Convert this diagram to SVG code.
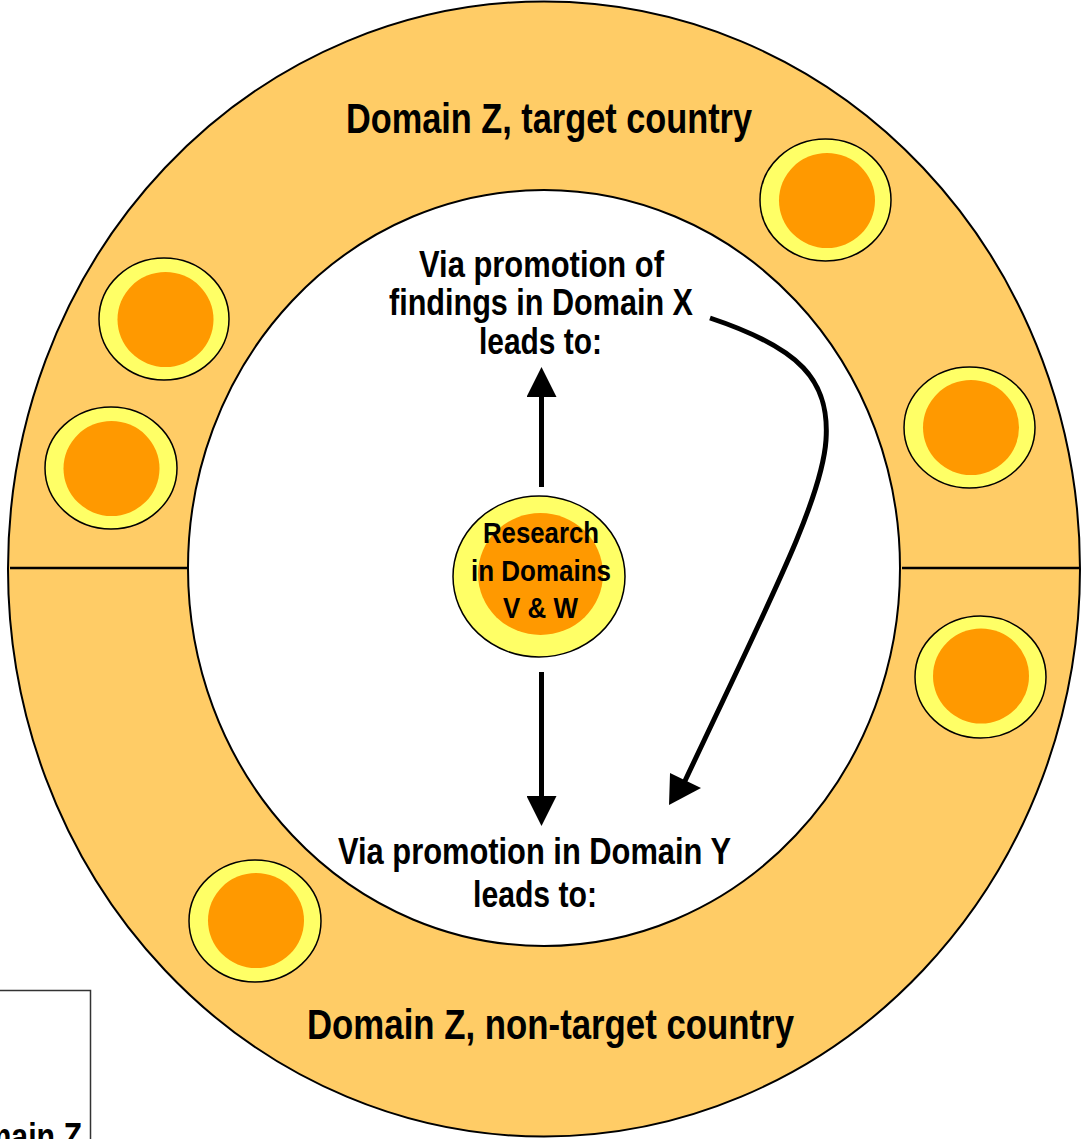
<svg xmlns="http://www.w3.org/2000/svg" width="1082" height="1139" viewBox="0 0 1082 1139">
<style>
.lbl{font-family:"Liberation Sans Narrow","Liberation Sans",Arial,sans-serif;font-weight:bold;fill:#000;text-anchor:middle}
.big{font-size:42.5px}
.mid{font-size:37px}
.sm{font-size:29px}
.pole{fill:#FFFF66;stroke:#000;stroke-width:1.5}
.core{fill:#FF9900}
.conn{fill:none;stroke:#000;stroke-width:5}
</style>
<defs>
<marker id="ah" markerUnits="userSpaceOnUse" markerWidth="30" markerHeight="30" viewBox="0 0 30 30" refX="0" refY="15" orient="auto">
<path d="M0,0 L30,15 L0,30 z" fill="#000"/>
</marker>
</defs>
<rect width="1082" height="1139" fill="#fff"/>
<g id="ring">
<ellipse cx="544" cy="569" rx="536" ry="567.5" fill="#FFCC66" stroke="#000" stroke-width="2"/>
<ellipse cx="544" cy="568" rx="356" ry="378" fill="#fff" stroke="#000" stroke-width="2"/>
<line x1="10" y1="568" x2="188" y2="568" stroke="#000" stroke-width="2.5"/>
<line x1="902" y1="568" x2="1080" y2="568" stroke="#000" stroke-width="2.5"/>
</g>
<g id="legend-box">
<rect x="-10" y="990.5" width="100.5" height="160" fill="#fff" stroke="#333" stroke-width="1.5"/>
<text class="lbl mid" x="82" y="1149" style="text-anchor:end" textLength="138" lengthAdjust="spacingAndGlyphs">Domain Z</text>
</g>
<g id="label-target">
<text class="lbl big" x="549" y="133" textLength="406" lengthAdjust="spacingAndGlyphs">Domain Z, target country</text>
</g>
<g id="label-nontarget">
<text class="lbl big" x="550.5" y="1039" textLength="487" lengthAdjust="spacingAndGlyphs">Domain Z, non-target country</text>
</g>
<g id="node-1"><ellipse class="pole" cx="164" cy="319" rx="65" ry="61"/><ellipse class="core" cx="165.5" cy="319.5" rx="48" ry="47.5"/></g>
<g id="node-2"><ellipse class="pole" cx="111" cy="468" rx="66" ry="61"/><ellipse class="core" cx="111.5" cy="468.5" rx="48" ry="47.5"/></g>
<g id="node-3"><ellipse class="pole" cx="825.5" cy="200" rx="65.5" ry="61"/><ellipse class="core" cx="827" cy="200.5" rx="48" ry="47.5"/></g>
<g id="node-4"><ellipse class="pole" cx="969.5" cy="427.5" rx="65.5" ry="60.5"/><ellipse class="core" cx="971" cy="427.5" rx="48" ry="47.5"/></g>
<g id="node-5"><ellipse class="pole" cx="980.5" cy="677" rx="65.5" ry="61"/><ellipse class="core" cx="981" cy="676" rx="48" ry="47.5"/></g>
<g id="node-6"><ellipse class="pole" cx="255" cy="921" rx="66" ry="61"/><ellipse class="core" cx="256" cy="920.5" rx="48" ry="47.5"/></g>
<g id="node-research">
<ellipse class="pole" cx="539" cy="576.5" rx="86" ry="80.5"/>
<ellipse class="core" cx="540.5" cy="574" rx="62.5" ry="61"/>
<text class="lbl sm" x="541" y="543" textLength="116" lengthAdjust="spacingAndGlyphs">Research</text>
<text class="lbl sm" x="541" y="580.5" textLength="140" lengthAdjust="spacingAndGlyphs">in Domains</text>
<text class="lbl sm" x="540.5" y="618" textLength="75" lengthAdjust="spacingAndGlyphs">V &amp; W</text>
</g>
<g id="node-x">
<text class="lbl mid" x="541.5" y="277" textLength="245" lengthAdjust="spacingAndGlyphs">Via promotion of</text>
<text class="lbl mid" x="541" y="315" textLength="304" lengthAdjust="spacingAndGlyphs">findings in Domain X</text>
<text class="lbl mid" x="540.5" y="354" textLength="123" lengthAdjust="spacingAndGlyphs">leads to:</text>
</g>
<g id="node-y">
<text class="lbl mid" x="534.5" y="864" textLength="393" lengthAdjust="spacingAndGlyphs">Via promotion in Domain Y</text>
<text class="lbl mid" x="535" y="907" textLength="124" lengthAdjust="spacingAndGlyphs">leads to:</text>
</g>
<g id="connectors">
<line class="conn" x1="541.5" y1="487" x2="541.5" y2="397" marker-end="url(#ah)"/>
<line class="conn" x1="541.5" y1="672" x2="541.5" y2="796" marker-end="url(#ah)"/>
<path class="conn" d="M710,318 C800,348 830,380 826,440 C822,500 770,600 684,783" stroke-width="5.5"/>
<polygon points="669,805 670,773 701,788" fill="#000"/>
</g>
</svg>
